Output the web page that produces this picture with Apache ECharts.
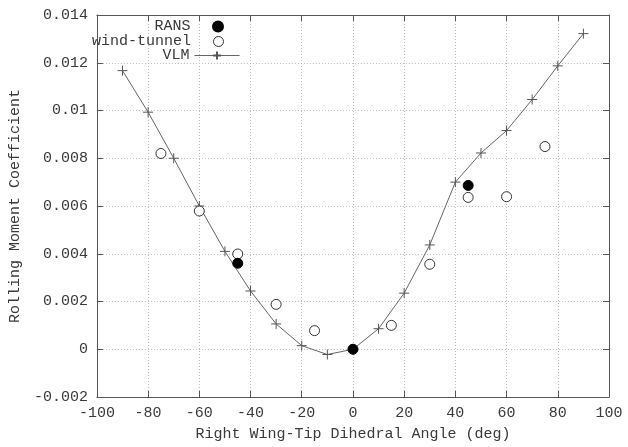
<!DOCTYPE html>
<html><head><meta charset="utf-8">
<script src="https://cdn.jsdelivr.net/npm/echarts@6/dist/echarts.min.js"></script>
<style>html,body{margin:0;padding:0;background:#fff}#c{width:628px;height:447px}</style>
</head><body><div id="c"></div>
<script>
const vlmX = [-90,-80,-70,-60,-50,-40,-30,-20,-10,0,10,20,30,40,50,60,70,80,90];
const vlmY = [0.01167,0.00993,0.0080,0.0060,0.0041,0.00244,0.00106,0.00015,-0.00022,0.0,0.00086,0.00235,0.00437,0.0070,0.00822,0.00916,0.01046,0.01187,0.01322];
const windX = [-75,-60,-45,-30,-15,15,30,45,60,75];
const windY = [0.0082,0.00579,0.00399,0.00188,0.00078,0.0010,0.00356,0.00636,0.00639,0.00849];
const ransX = [-45,0,45];
const ransY = [0.0036,0.0,0.00686];
const xTicks = [-100,-80,-60,-40,-20,0,20,40,60,80,100];
const yTicks = [-0.002,0,0.002,0.004,0.006,0.008,0.01,0.012,0.014];

const font = 'Liberation Mono';
const fc = '#3a3a3a';
const pair = (xs, ys) => xs.map((x,i)=>[x, ys[i]]);
const plus = 'path://M0,5L10,5M5,0L5,10';
const fmtY = v => { const s = +v.toFixed(3); return String(s); };

const gridLine = {show:true, lineStyle:{color:'#bbb', type:[1,2], width:1}};
const axLine = {show:true, onZero:false, lineStyle:{color:'#555', width:1}};
const tick = {show:true, inside:true, length:6, lineStyle:{color:'#555'}};
const lbl = {fontFamily:font, fontSize:15, color:fc};
const legText = {fontFamily:font, fontSize:15, color:fc};

const chart = echarts.init(document.getElementById('c'));
chart.setOption({
  animation:false,
  backgroundColor:'#fff',
  grid:{left:89, right:19, top:15, bottom:49},
  xAxis:[{
    type:'value', min:-100, max:100, interval:20, position:'bottom',
    axisLine:axLine, axisTick:tick, splitLine:gridLine,
    axisLabel:Object.assign({margin:9}, lbl),
    name:'Right Wing-Tip Dihedral Angle (deg)', nameLocation:'middle', nameGap:30,
    nameTextStyle:{fontFamily:font, fontSize:15, color:fc}
  },{
    type:'value', min:-100, max:100, interval:20, position:'top',
    axisLine:axLine, axisTick:tick, splitLine:{show:false}, axisLabel:{show:false}
  }],
  yAxis:[{
    type:'value', min:-0.002, max:0.014, interval:0.002, position:'left',
    axisLine:axLine, axisTick:tick, splitLine:gridLine,
    axisLabel:Object.assign({margin:9, formatter:fmtY}, lbl),
    name:'Rolling Moment Coefficient', nameLocation:'middle', nameGap:68,
    nameTextStyle:{fontFamily:font, fontSize:15, color:fc}
  },{
    type:'value', min:-0.002, max:0.014, interval:0.002, position:'right',
    axisLine:axLine, axisTick:tick, splitLine:{show:false}, axisLabel:{show:false}
  }],
  legend:[
    {data:['RANS'], orient:'vertical', align:'right', right:628-224, top:19, itemWidth:45, itemHeight:10,
     textStyle:legText, selectedMode:false, padding:0},
    {data:['wind-tunnel'], orient:'vertical', align:'right', right:628-224, top:34, itemWidth:45, itemHeight:10,
     textStyle:legText, selectedMode:false, padding:0, itemStyle:{borderWidth:1}},
    {data:['VLM'], orient:'vertical', align:'right', right:628-240, top:48, itemWidth:45, itemHeight:10,
     textStyle:legText, selectedMode:false, padding:0,
     lineStyle:{width:1}}
  ],
  series:[
    {name:'VLM', type:'line', data:pair(vlmX, vlmY), symbol:plus, symbolSize:10,
     lineStyle:{color:'#666', width:1}, itemStyle:{color:'transparent', borderColor:'#555', borderWidth:1}, z:2},
    {name:'wind-tunnel', type:'scatter', data:pair(windX, windY), symbol:'circle', symbolSize:10,
     itemStyle:{color:'#fff', borderColor:'#333', borderWidth:1, opacity:1}, z:3},
    {name:'RANS', type:'scatter', data:pair(ransX, ransY), symbol:'circle', symbolSize:10,
     itemStyle:{color:'#000', borderColor:'#000', borderWidth:1, opacity:1}, z:4}
  ]
});
</script></body></html>
